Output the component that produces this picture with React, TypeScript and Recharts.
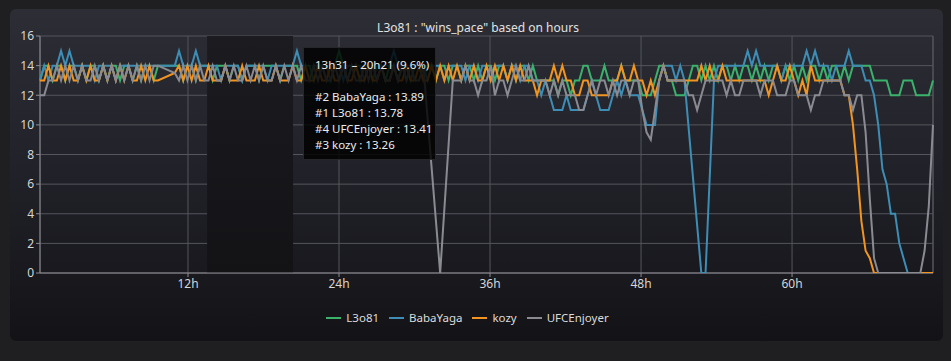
import React from 'react';
import { LineChart, Line, XAxis, YAxis, CartesianGrid, ReferenceArea, ReferenceLine, Legend } from 'recharts';

// sampling grid: one sample every ~20 min between first and last reading
const SAMPLE_COUNT = 213;
const HOUR_START = 0.24;
const HOUR_END = 71.2;
const HOURS = Array.from({ length: SAMPLE_COUNT }, (_, i) => HOUR_START + (i * (HOUR_END - HOUR_START)) / (SAMPLE_COUNT - 1));

const X_TICKS = [12, 24, 36, 48, 60];
const Y_TICKS = [0, 2, 4, 6, 8, 10, 12, 14, 16];

// null = no reading (gap), drawn as a straight join
const L3O81 = [
  13, 14, 14, 13, 14, 14, 13, 14, 14, 13,
  14, 13, 14, 14, 13, 14, 13, 14, 14, 13,
  14, 14, 13, 14, 13, 14, 14, 13, 14, null,
  null, null, 14, 14, 13, 14, 14, 13, 14, 14,
  14, 13, 14, 14, 14, 13, 14, 14, 13, 14,
  14, 14, 13, 14, 14, 14, 14, 13, 14, 14,
  14, 14, 13, 14, 14, 13, 14, 14, 14, 13,
  14, 15, 14, 13, 14, 14, 13, 14, 14, 13,
  14, 14, 13, 14, 14, 13, 14, 14, 13, 14,
  14, 13, 14, 14, 13, 14, 14, 13, 14, 14,
  13, 14, 14, 13, 14, 13, 14, 14, 13, 14,
  14, 13, 14, 13, 14, 14, 13, 14, 13, 13,
  13, 13, 13, 12, 13, 13, 12, 13, 13, 14,
  14, 13, 13, 13, 14, 13, 13, 13, 14, 13,
  13, 13, 13, 12, 12, 12, 13, 14, 14, 13,
  13, 12, 12, 12, 13, 14, 14, 13, 14, 13,
  14, 13, 14, 14, 13, 14, 13, 14, 14, 13,
  14, 13, 14, 13, 14, 14, 13, 14, 13, 14,
  13, 14, 13, 14, 14, 13, 14, 13, 14, 14,
  13, 14, 13, 14, 14, 14, 14, 14, 13, 13,
  13, 13, 12, 12, 12, 13, 13, 13, 12, 12,
  12, 12, 13,
];

const BABAYAGA = [
  13, 14, 13, 14, 14, 15, 14, 15, 14, 14,
  14, 14, 14, 13, 14, 14, 14, 14, 13, 14,
  14, 14, 14, 14, 14, 14, 14, 14, 14, null,
  null, null, 14, 15, 14, 14, 14, 15, 14, 14,
  14, 14, 14, 13, 14, 14, 14, 14, 13, 14,
  14, 14, 14, 14, 13, 14, 14, 14, 14, 14,
  14, 15, 14, 14, 13, 14, 14, 14, 13, 14,
  14, 14, 13, 14, 14, 14, 14, 13, 14, 14,
  14, 14, 14, 14, 15, 14, 14, 13, 14, 14,
  14, 14, 13, 14, 14, 14, 13, 14, 14, 14,
  14, 13, 14, 14, 13, 14, 14, 13, 14, 14,
  14, 13, 14, 14, 13, 14, 14, 13, 13, 12,
  13, 12, 11, 11, 11, 12, 11, 11, 11, 11,
  12, 13, 12, 11, 11, 11, 12, 13, 12, 13,
  12, 12, 12, 11, 10, 10, 10, 13, 14, 14,
  14, 13, 14, 13, null, null, null, 0, 0, null,
  13, 14, 14, 14, 14, 14, 14, 14, 15, 14,
  15, 14, 14, 14, 14, 14, 13, 14, 14, 14,
  14, 14, 15, 14, 15, 14, 14, 14, 13, 14,
  14, 14, 15, 14, 14, 14, 13, 13, 12, 10,
  7, 6, 4, 4, 2, 1, 0, 0, 0, 0,
  0, 0, 0,
];

const KOZY = [
  13, 13, 14, 13, 13, 14, 13, 14, 13, 13,
  14, 13, 14, 13, 13, 14, 13, 14, 13, 14,
  13, 14, 13, 13, 14, 13, 14, 13, 13, null,
  null, null, 13.5, 14, 13, 14, 13, 14, 13, 13,
  14, 13, 13, 13, 14, 13, 13, 13, 14, 13,
  13, 13, 14, 13, 13, 13, 14, 13, 13, 13,
  14, 13, 13, 14, 13, 13, 14, 13, 13, 14,
  13, 13, 14, 13, 13, 14, 13, 13, 14, 13,
  13, 14, 13, 13, 14, 13, 13, 14, 13, 13,
  14, 13, 13, 14, 13, 14, 13, 14, 13, 14,
  13, 14, 13, 14, 13, 13, 14, 13, 14, 13,
  14, 13, 14, 13, 14, 13, 13, 13, 12, 13,
  13, 13, 14, 13, 14, 13, 13, 12, 12, 13,
  13, 12, 12, 12, 12, 12, 13, 13, 14, 13,
  13, 14, 13, 13, 12, 13, 12, 13, 14, 13,
  13, 13, 13, 13, 13, 13, 13, 14, 13, 14,
  13, 13, 14, 13, 13, 13, 13, 13, 13, 13,
  13, 13, 13, 12, 13, 14, 13, 13, 14, 13,
  12, 13, 12, 14, 13, 13, 13, 13, 13, 13,
  13, 12, 12, 10, 7, 3.5, 1.5, 1, 0, 0,
  0, 0, 0, 0, 0, 0, 0, 0, 0, 0,
  0, 0, 0,
];

const UFCENJOYER = [
  12, 12, 13, 13, 14, 13, 14, 13, 14, 13,
  14, 13, 13, 14, 13, 14, 13, 14, 13, 14,
  13, 14, 13, 14, 13, 14, 13, 14, 14, null,
  null, null, 13.5, 13, 14, 13, 14, 13, 14, 13,
  13, 14, 13, 13, 14, 13, 14, 13, 13, 14,
  13, 14, 13, 14, 13, 13, 14, 13, 14, 13,
  14, 13, 14, 13, 13, 14, 13, 14, 13, 13,
  14, 13, 14, 13, 14, 13, 13, 14, 13, 14,
  13, 14, 13, 13, 14, 13, 14, 13, 14, 13,
  13, 14, null, null, null, 0, null, null, 13, 13,
  13, 14, 13, 13, 12, 13, 13, 14, 12, 13,
  13, 12, 13, 14, 13, 13, 14, 13, 13, 13,
  13, 12, 13, 12, 13, 12, 12, 12, 11, 11,
  12, 13, 12, 13, 13, 12, 13, 12, 13, 13,
  12, 13, 13, 11, 9.5, 9, 11, 13, 14, 13,
  13, 13, 13, 13, 12, 12, 11, 12, 13, 13,
  13, 13, 13, 12, 13, 12, 12, 13, 13, 13,
  13, 12, 13, 13, 13, 12, 12, 12, 13, 13,
  12, 12, 12, 11, 12, 12, 13, 13, 13, 13,
  13, 12, 12, 11, 12, 12, 9.5, 5, 1, 0,
  0, 0, 0, 0, 0, 0, 0, 0, 0, 0,
  1.5, 4.5, 10,
];

const SERIES = [
  { name: 'L3o81', color: '#3bb26c', values: L3O81 },
  { name: 'BabaYaga', color: '#3d8db5', values: BABAYAGA },
  { name: 'kozy', color: '#f29420', values: KOZY },
  { name: 'UFCEnjoyer', color: '#8a8b92', values: UFCENJOYER },
];

// selected range shown in the tooltip box
const RANGE_FROM = 13 + 31 / 60;
const RANGE_TO = 20 + 21 / 60;
const RANGE_LABEL = '13h31 – 20h21 (9.6%)';
const RANGE_ROWS = [
  { rank: 2, name: 'BabaYaga', value: 13.89 },
  { rank: 1, name: 'L3o81', value: 13.78 },
  { rank: 4, name: 'UFCEnjoyer', value: 13.41 },
  { rank: 3, name: 'kozy', value: 13.26 },
];

const FONT = '"Noto Sans", "Open Sans", sans-serif';
const GRID = '#55565c';
const AXIS = '#8c8c92';
const W = 951;
const H = 361;

const data = HOURS.map((h, i) => {
  const row: Record<string, number | null> = { h };
  SERIES.forEach((s) => {
    row[s.name] = s.values[i];
  });
  return row;
});

const LegendContent = () => (
  <div style={{ display: 'flex', justifyContent: 'center', gap: 10, fontFamily: FONT, fontSize: 11.5, color: '#dcdcdc', paddingRight: 8 }}>
    {SERIES.map((s) => (
      <div key={s.name} style={{ display: 'flex', alignItems: 'center', gap: 5 }}>
        <span style={{ display: 'inline-block', width: 15, height: 2, background: s.color }} />
        <span>{s.name}</span>
      </div>
    ))}
  </div>
);

export default function App() {
  return (
    <div style={{ position: 'absolute', left: 0, top: 0, width: W, height: H, background: '#1f1f21', overflow: 'hidden' }}>
      <div
        style={{
          position: 'absolute',
          left: 10,
          top: 9,
          width: 933,
          height: 332,
          borderRadius: 6,
          background: 'linear-gradient(180deg, #2c2d35 0%, #22232a 45%, #131317 100%)',
        }}
      />
      <div
        style={{
          position: 'absolute',
          left: 0,
          top: 19,
          width: 956,
          textAlign: 'center',
          fontFamily: FONT,
          fontSize: 12,
          color: '#e2e2e2',
        }}
      >
        L3o81 : "wins_pace" based on hours
      </div>
      {/* back layer: grid, axes, selected range, legend */}
      <LineChart
        width={W}
        height={H}
        data={data}
        margin={{ top: 36, right: 18, bottom: 43, left: 10 }}
        style={{ position: 'absolute', left: 0, top: 0 }}
      >
        <defs>
          <linearGradient id="band" x1="0" y1="0" x2="0" y2="1">
            <stop offset="0%" stopColor="#1b1b20" />
            <stop offset="100%" stopColor="#131316" />
          </linearGradient>
        </defs>
        <CartesianGrid stroke={GRID} vertical horizontal />
        <XAxis
          dataKey="h"
          type="number"
          domain={['dataMin', 'dataMax']}
          ticks={X_TICKS}
          tickFormatter={(v) => `${v}h`}
          stroke={AXIS}
          tickSize={4}
          height={30}
          tick={{ fill: '#d6d6d6', fontSize: 12, fontFamily: FONT }}
        />
        <YAxis
          dataKey={SERIES[0].name}
          type="number"
          domain={[0, 16]}
          allowDataOverflow
          ticks={Y_TICKS}
          stroke={AXIS}
          width={30}
          tickSize={4}
          tickMargin={2}
          tick={{ fill: '#d6d6d6', fontSize: 12, fontFamily: FONT }}
        />
        <ReferenceLine x={HOURS[HOURS.length - 1]} stroke={GRID} />
        <ReferenceArea x1={RANGE_FROM} x2={RANGE_TO} y1={0} y2={16} fill="url(#band)" fillOpacity={1} stroke="none" />
        <Legend content={<LegendContent />} verticalAlign="bottom" wrapperStyle={{ bottom: 36 }} />
      </LineChart>
      {/* front layer: the four series, same scales */}
      <LineChart
        width={W}
        height={H}
        data={data}
        margin={{ top: 36, right: 18, bottom: 88, left: 40 }}
        style={{ position: 'absolute', left: 0, top: 0 }}
      >
        <XAxis dataKey="h" type="number" domain={['dataMin', 'dataMax']} hide />
        <YAxis type="number" domain={[0, 16]} allowDataOverflow hide />
        {SERIES.map((s) => (
          <Line
            key={s.name}
            type="linear"
            dataKey={s.name}
            stroke={s.color}
            strokeWidth={2}
            dot={false}
            connectNulls
            isAnimationActive={false}
          />
        ))}
      </LineChart>
      <div
        style={{
          position: 'absolute',
          left: 303,
          top: 47,
          width: 133,
          height: 113,
          boxSizing: 'border-box',
          padding: '9px 11px',
          background: 'rgba(0,0,0,0.82)',
          border: '1px solid rgba(60,60,66,0.6)',
          fontFamily: FONT,
          fontSize: 11.5,
          lineHeight: '16px',
          color: '#ececec',
          whiteSpace: 'nowrap',
        }}
      >
        <div>{RANGE_LABEL}</div>
        <div style={{ height: 16 }} />
        {RANGE_ROWS.map((r) => (
          <div key={r.name}>{`#${r.rank} ${r.name} : ${r.value.toFixed(2)}`}</div>
        ))}
      </div>
    </div>
  );
}
